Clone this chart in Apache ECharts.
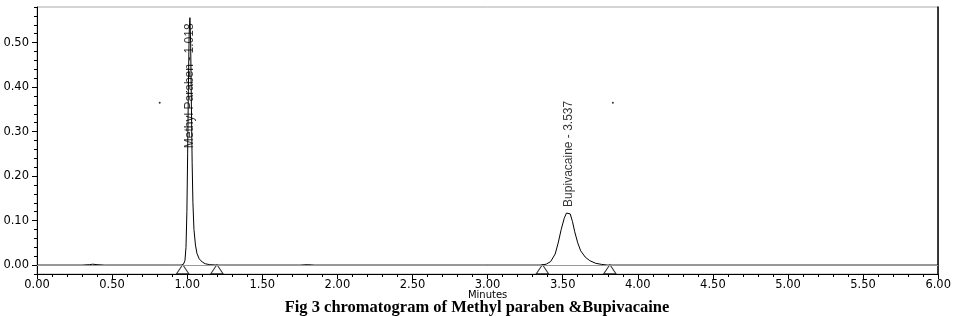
<!DOCTYPE html>
<html>
<head>
<meta charset="utf-8">
<script src="https://cdn.jsdelivr.net/npm/echarts@6/dist/echarts.min.js"></script>
<style>
  html, body { margin: 0; padding: 0; background: #fff; }
  #chart { width: 954px; height: 316px; }
</style>
</head>
<body>
<div id="chart"></div>
<script>
// detector trace (minutes, AU)
const times = [0, 0.30, 0.35, 0.37, 0.40, 0.45, 0.90, 0.960, 0.975, 0.985, 0.992, 0.998, 1.003, 1.008,
  1.013, 1.018, 1.023, 1.028, 1.033, 1.038, 1.045, 1.055, 1.065, 1.080, 1.100, 1.120, 1.150, 1.200,
  1.75, 1.80, 1.85, 3.35, 3.39, 3.42, 3.45, 3.47, 3.49, 3.51, 3.525, 3.537, 3.55, 3.565, 3.58, 3.60,
  3.62, 3.65, 3.68, 3.72, 3.76, 3.80, 6.00]
const signal = [0, 0, 0.001, 0.002, 0.001, 0, 0, 0, 0.002, 0.010, 0.040, 0.120, 0.250, 0.400,
  0.520, 0.556, 0.500, 0.360, 0.230, 0.140, 0.080, 0.045, 0.026, 0.014, 0.007, 0.003, 0.001, 0,
  0, 0.001, 0, 0, 0.002, 0.008, 0.025, 0.050, 0.080, 0.105, 0.117, 0.120, 0.115, 0.098, 0.075, 0.050,
  0.032, 0.018, 0.010, 0.004, 0.0015, 0, 0]

// integration markers (peak start / end)
const markerTimes = [0.970, 1.198, 3.365, 3.814]
const markerLevel = -0.009

// peak annotations
const peakNames = ['Methyl Paraben - 1.018', 'Bupivacaine - 3.537']
const peakTimes = [1.018, 3.537]
const peakLabelLevels = [0.403, 0.25]

// stray dots on the print
const dotTimes = [0.817, 3.834]
const dotLevels = [0.365, 0.365]

const yLabels = [0, 0.1, 0.2, 0.3, 0.4, 0.5]

const chart = echarts.init(document.getElementById('chart'))

const axisFont = { fontFamily: 'DejaVu Sans', fontSize: 11.5, color: '#000' }

const option = {
  animation: false,
  backgroundColor: '#fff',
  title: {
    text: 'Fig 3 chromatogram of Methyl paraben &Bupivacaine',
    left: 'center',
    top: 299,
    padding: 0,
    textStyle: { fontFamily: 'Liberation Serif', fontWeight: 'bold', fontSize: 16.5, color: '#000' }
  },
  grid: {
    left: 37, right: 14, top: 7, bottom: 42,
    show: true, borderColor: '#aaa', borderWidth: 1
  },
  xAxis: {
    type: 'value',
    min: 0, max: 6, interval: 0.5,
    name: 'Minutes',
    nameLocation: 'middle',
    nameGap: 16,
    nameMoveOverlap: false,
    nameTextStyle: { fontFamily: 'DejaVu Sans', fontSize: 10, color: '#000', verticalAlign: 'top' },
    axisLine: { onZero: false, lineStyle: { color: '#000', width: 1 } },
    axisTick: { length: 5, lineStyle: { color: '#000' } },
    minorTick: { show: true, splitNumber: 5, length: 3, lineStyle: { color: '#000' } },
    axisLabel: Object.assign({ margin: 5, formatter: v => v.toFixed(2) }, axisFont),
    splitLine: { show: false }
  },
  yAxis: [
    {
      type: 'value',
      min: -0.02, max: 0.58,
      axisLine: { show: true, lineStyle: { color: '#000', width: 1 } },
      axisTick: { show: true, length: 5, customValues: yLabels, lineStyle: { color: '#000' } },
      axisLabel: Object.assign({ margin: 8, customValues: yLabels, formatter: v => v.toFixed(2) }, axisFont),
      splitLine: { show: false }
    },
    {
      type: 'value',
      min: -0.02, max: 0.58, interval: 0.02,
      position: 'left',
      axisLine: { show: false },
      axisTick: { show: true, length: 3, lineStyle: { color: '#000' } },
      axisLabel: { show: false },
      splitLine: { show: false }
    },
    {
      type: 'value',
      min: -0.02, max: 0.58,
      position: 'right',
      axisLine: { show: true, lineStyle: { color: '#000', width: 1.5 } },
      axisTick: { show: false },
      axisLabel: { show: false },
      splitLine: { show: false }
    }
  ],
  series: [
    {
      type: 'line',
      data: times.map((t, i) => [t, signal[i]]),
      showSymbol: false,
      lineStyle: { color: '#000', width: 1 },
      z: 3,
      markLine: {
        silent: true,
        symbol: 'none',
        label: { show: false },
        lineStyle: { color: '#999', width: 1, type: 'solid' },
        data: [{ yAxis: 0 }]
      }
    },
    {
      type: 'scatter',
      data: markerTimes.map(t => [t, markerLevel]),
      symbol: 'triangle',
      symbolSize: [12, 9],
      itemStyle: { color: '#fff', borderColor: '#000', borderWidth: 1 },
      z: 4
    },
    {
      type: 'scatter',
      data: peakTimes.map((t, i) => ({ value: [t, peakLabelLevels[i]], name: peakNames[i] })),
      symbolSize: 0,
      label: {
        show: true,
        position: 'inside',
        rotate: 90,
        formatter: p => p.name,
        fontFamily: 'Liberation Sans',
        fontSize: 12,
        color: '#000'
      },
      z: 5
    },
    {
      type: 'scatter',
      data: dotTimes.map((t, i) => [t, dotLevels[i]]),
      symbolSize: 2,
      itemStyle: { color: '#000' }
    }
  ]
}

chart.setOption(option)
</script>
</body>
</html>
